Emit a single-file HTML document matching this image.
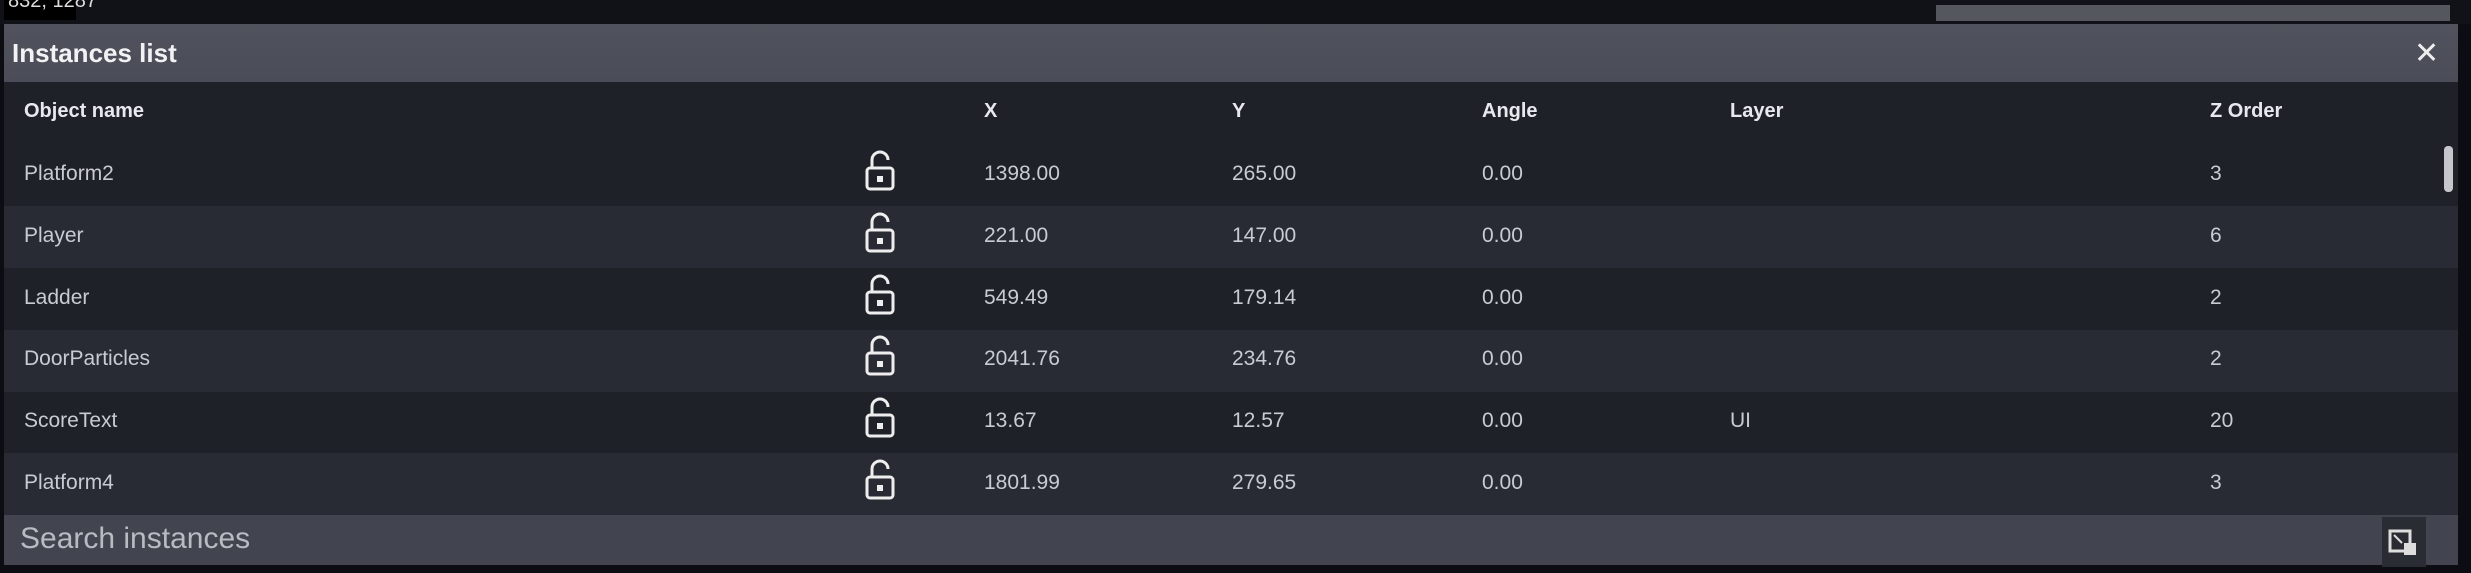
<!DOCTYPE html>
<html><head><style>
body{margin:0;width:2471px;height:573px;background:#0c0d12;overflow:hidden;font-family:"Liberation Sans",sans-serif;position:relative}
.a{position:absolute}
.t{position:absolute;color:#c9cbd2;font-size:21px;white-space:nowrap}
.h{position:absolute;color:#e8e9ee;font-size:20px;font-weight:bold;white-space:nowrap}
.row{position:absolute;left:4px;width:2454px;height:62px}
</style></head><body>
<div class="a" style="left:0;top:0;width:2471px;height:24px;background:#111218"></div>
<div class="a" style="left:4px;top:0;width:72px;height:20px;background:#000"></div>
<div class="t" style="left:8px;top:-10px;font-size:20px;color:#ddd">832, 1287</div>
<div class="a" style="left:1936px;top:5px;width:514px;height:16px;background:#55575f"></div>
<div class="a" style="left:4px;top:24px;width:2454px;height:58px;background:linear-gradient(#50525d,#4a4c57)"></div>
<div class="h" style="left:12px;top:38px;font-size:26px;color:#f2f2f5">Instances list</div>
<div class="t" style="left:2414px;top:36px;font-size:30px;color:#eee">✕</div>
<div class="a" style="left:4px;top:82px;width:2454px;height:433px;background:#1f2128"></div>
<div class="row" style="top:206px;background:#292b34"></div>
<div class="row" style="top:330px;background:#292b34"></div>
<div class="row" style="top:453px;background:#292b34"></div>
<div class="a" style="left:2444px;top:146px;width:9px;height:46px;border-radius:4px;background:#c5c7cc"></div>
<div class="h" style="left:24px;top:100px">Object name</div>
<div class="h" style="left:984px;top:100px">X</div>
<div class="h" style="left:1232px;top:100px">Y</div>
<div class="h" style="left:1482px;top:100px">Angle</div>
<div class="h" style="left:1730px;top:100px">Layer</div>
<div class="h" style="left:2210px;top:100px">Z Order</div>
<div id="rows"></div>
<div class="a" style="left:4px;top:515px;width:2454px;height:50px;background:#424550"></div>
<div class="t" style="left:20px;top:522px;font-size:30px;color:#b9bbc3">Search instances</div>
<div class="a" style="left:2382px;top:517px;width:44px;height:50px;background:#2a2c33"></div>
<svg class="a" style="left:2388px;top:527px" width="40" height="34"><rect x="2" y="4" width="20" height="20" fill="none" stroke="#ddd" stroke-width="3"/><rect x="16" y="16" width="12" height="12" fill="#ddd"/><line x1="6" y1="8" x2="14" y2="16" stroke="#ddd" stroke-width="2"/></svg>
<script>
var d=[["Platform2","1398.00","265.00","0.00","","3"],["Player","221.00","147.00","0.00","","6"],["Ladder","549.49","179.14","0.00","","2"],["DoorParticles","2041.76","234.76","0.00","","2"],["ScoreText","13.67","12.57","0.00","UI","20"],["Platform4","1801.99","279.65","0.00","","3"]];
var xs=[24,984,1232,1482,1730,2210],h="";
d.forEach(function(r,i){var y=162+i*61.8;
r.forEach(function(v,j){h+='<div class="t" style="left:'+xs[j]+'px;top:'+y+'px">'+v+'</div>';});
h+='<svg class="a" style="left:864px;top:'+(y-12)+'px" width="32" height="42"><path d="M8 18 V10 a8 8 0 0 1 16 0" fill="none" stroke="#eee" stroke-width="3"/><rect x="3" y="18" width="26" height="21" rx="3" fill="none" stroke="#eee" stroke-width="3"/><rect x="13" y="26" width="6" height="6" fill="#eee"/></svg>';});
document.getElementById("rows").innerHTML=h;
</script>
</body></html>
